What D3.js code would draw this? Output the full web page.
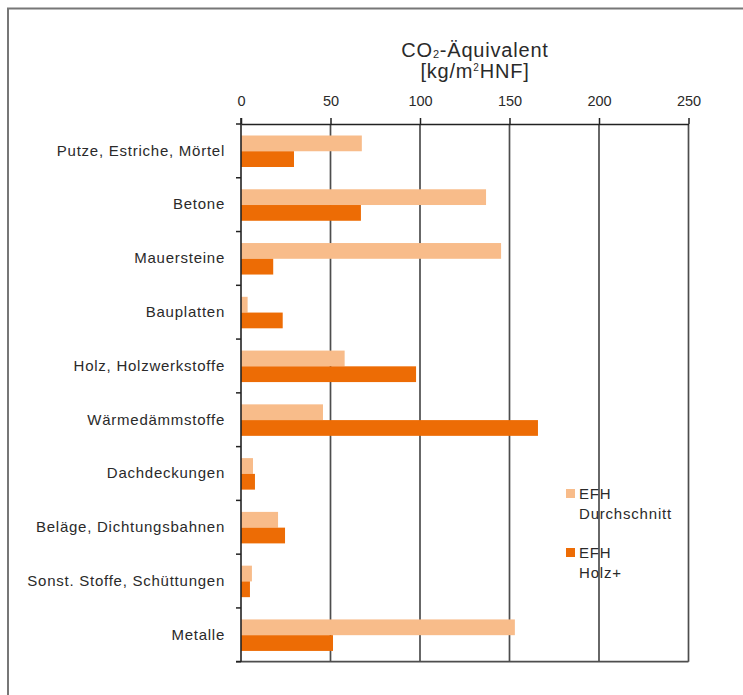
<!DOCTYPE html>
<html>
<head>
<meta charset="utf-8">
<script src="https://cdn.jsdelivr.net/npm/d3@7"></script>
<style>
  body { margin: 0; background: #fff; }
  svg text { font-family: "Liberation Sans", Arial, sans-serif; fill: #2a2a2a; }
</style>
</head>
<body>
<div class="container"></div>
<script>
var categories = ["Putze, Estriche, Mörtel", "Betone", "Mauersteine", "Bauplatten",
  "Holz, Holzwerkstoffe", "Wärmedämmstoffe", "Dachdeckungen",
  "Beläge, Dichtungsbahnen", "Sonst. Stoffe, Schüttungen", "Metalle"];
var seriesNames = ["EFH Durchschnitt", "EFH Holz+"];
var durchschnitt = [67.5, 136.9, 145.3, 3.7, 57.9, 45.8, 6.7, 20.7, 6.1, 153];
var holzPlus = [29.6, 67, 18, 23.3, 97.8, 165.9, 7.8, 24.6, 5.0, 51.4];
var tickValues = [0, 50, 100, 150, 200, 250];
var colors = ["#F8BC8A", "#ED6C05"];

var width = 743, height = 695;
var svg = d3.select(".container")
  .append("svg")
    .attr("width", width)
    .attr("height", height);

// frame
svg.append("path")
  .attr("d", "M8,695 L8,8.5 L743,8.5")
  .attr("fill", "none")
  .attr("stroke", "#777")
  .attr("stroke-width", 2);

var x = d3.scaleLinear()
  .domain([0, 250])
  .range([241, 688.5]);

var y = d3.scaleBand()
  .domain(categories)
  .range([124, 661.7]);

var ySub = d3.scaleBand()
  .domain(seriesNames)
  .range([11.5, 43]);

// grid lines
svg.selectAll(".grid")
  .data(tickValues.filter(d => d > 0))
  .enter().append("line")
    .attr("x1", d => x(d))
    .attr("x2", d => x(d))
    .attr("y1", y.range()[0])
    .attr("y2", y.range()[1])
    .attr("stroke", "#4d4d4d")
    .attr("stroke-width", 1.7);

// bars
var data = [];
categories.forEach(function(c, i) {
  data.push({cat: c, s: seriesNames[0], v: durchschnitt[i], col: colors[0]});
  data.push({cat: c, s: seriesNames[1], v: holzPlus[i], col: colors[1]});
});

svg.selectAll(".bar")
  .data(data)
  .enter().append("rect")
    .attr("x", x(0))
    .attr("y", d => y(d.cat) + ySub(d.s))
    .attr("width", d => x(d.v) - x(0))
    .attr("height", ySub.bandwidth())
    .attr("fill", d => d.col);

// bottom line
svg.append("line")
  .attr("x1", x(0) - 5)
  .attr("x2", x(250))
  .attr("y1", y.range()[1])
  .attr("y2", y.range()[1])
  .attr("stroke", "#4d4d4d")
  .attr("stroke-width", 1.7);

// left ticks at band boundaries
var bounds = categories.map(c => y(c)).concat([y.range()[1]]);
svg.selectAll(".ltick")
  .data(bounds)
  .enter().append("line")
    .attr("x1", x(0) - 5)
    .attr("x2", x(0))
    .attr("y1", d => d)
    .attr("y2", d => d)
    .attr("stroke", "#222")
    .attr("stroke-width", 1.5);

// left axis labels
var yAxis = svg.append("g")
  .attr("transform", "translate(" + x(0) + ",0)")
  .call(d3.axisLeft(y).tickSize(0).tickPadding(16));
yAxis.select(".domain").remove();
yAxis.selectAll("text")
  .style("font-size", "15px")
  .style("letter-spacing", "0.75px")
  .style("font-family", "'Liberation Sans', Arial, sans-serif")
  .attr("fill", "#2a2a2a");

svg.append("line")
  .attr("x1", x(0))
  .attr("x2", x(0))
  .attr("y1", y.range()[0] - 6)
  .attr("y2", y.range()[1])
  .attr("stroke", "#222")
  .attr("stroke-width", 1.6);

// top axis
var xAxis = svg.append("g")
  .attr("transform", "translate(0," + y.range()[0] + ")")
  .call(d3.axisTop(x).tickValues(tickValues).tickSize(6).tickSizeOuter(0).tickPadding(12));
xAxis.select(".domain").attr("stroke", "#222").attr("stroke-width", 1.5);
xAxis.selectAll(".tick line").attr("stroke", "#222").attr("stroke-width", 1.5);
xAxis.selectAll("text")
  .style("font-size", "14.5px")
  .style("font-family", "'Liberation Sans', Arial, sans-serif")
  .attr("fill", "#2a2a2a");

// title
var t1 = svg.append("text")
  .attr("x", 475)
  .attr("y", 57)
  .attr("text-anchor", "middle")
  .style("font-size", "20px")
  .style("letter-spacing", "0.8px");
t1.append("tspan").text("CO");
t1.append("tspan").text("2").style("font-size", "11px").attr("dy", 1);
t1.append("tspan").text("-Äquivalent").attr("dy", -1);

var t2 = svg.append("text")
  .attr("x", 475)
  .attr("y", 78)
  .attr("text-anchor", "middle")
  .style("font-size", "20px")
  .style("letter-spacing", "0.8px");
t2.append("tspan").text("[kg/m");
t2.append("tspan").text("2").style("font-size", "10px").attr("dy", -7);
t2.append("tspan").text("HNF]").attr("dy", 7);

// legend
var legend = svg.selectAll(".legend")
  .data([["EFH", "Durchschnitt"], ["EFH", "Holz+"]])
  .enter().append("g")
    .attr("transform", (d, i) => "translate(566," + (489 + i * 59) + ")");

legend.append("rect")
  .attr("width", 9)
  .attr("height", 9)
  .attr("fill", (d, i) => colors[i]);

legend.append("text")
  .attr("x", 13)
  .attr("y", 9.5)
  .style("font-size", "15px")
  .style("letter-spacing", "0.8px")
  .text(d => d[0]);

legend.append("text")
  .attr("x", 13)
  .attr("y", 29.5)
  .style("font-size", "15px")
  .style("letter-spacing", "0.8px")
  .text(d => d[1]);
</script>
</body>
</html>
